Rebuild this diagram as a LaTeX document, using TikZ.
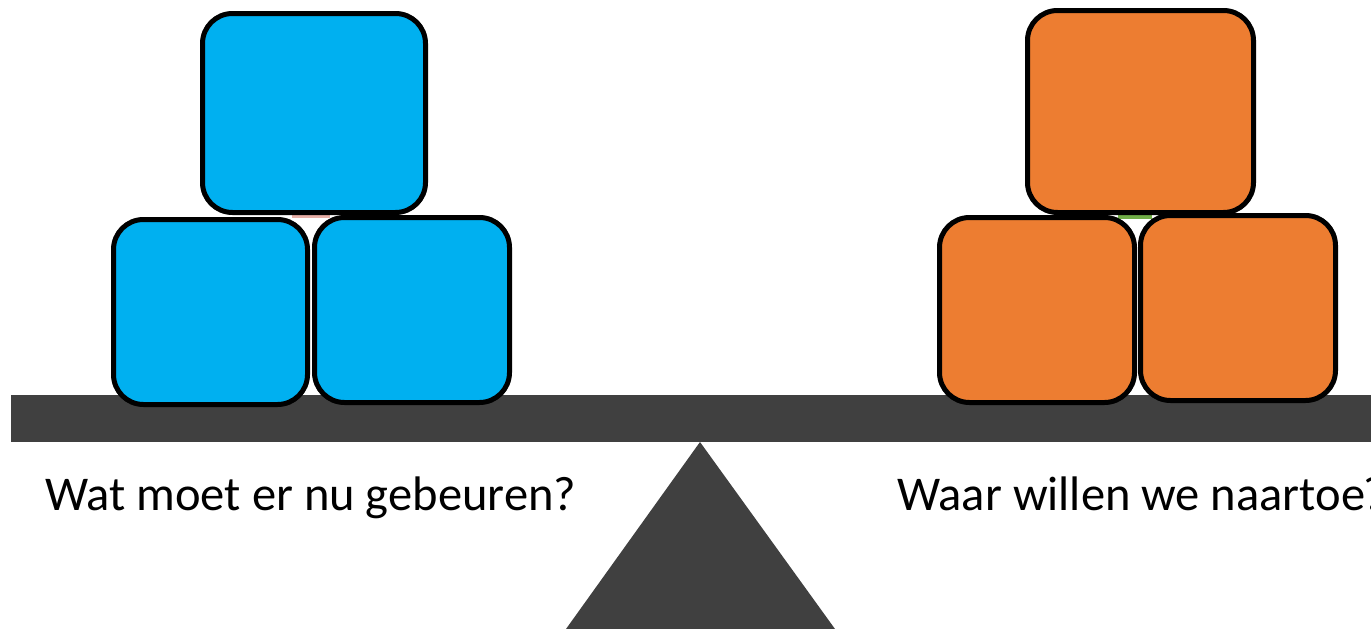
\documentclass[tikz,border=0pt]{standalone}
\usepackage{fontspec}
\setmainfont{Carlito}
\definecolor{cubeblue}{HTML}{00B0F0}
\definecolor{cubeorange}{HTML}{ED7D31}
\definecolor{beamgray}{HTML}{404040}
\definecolor{slivergreen}{HTML}{70AD47}
\definecolor{sliverred}{HTML}{E8B0A8}
\tikzset{
  cube/.style={draw=black, line width=5pt, rounded corners=30pt, inner sep=0pt, outer sep=0pt},
  bluecube/.style={cube, fill=cubeblue},
  orangecube/.style={cube, fill=cubeorange},
  label/.style={anchor=base west, inner sep=0pt, font=\fontsize{48.5}{58}\selectfont, text=black},
  beam/.style={fill=beamgray, draw=none}
}
\begin{document}
\begin{tikzpicture}[x=1pt, y=-1pt]
\useasboundingbox (0,0) rectangle (1371,629);
\clip (0,0) rectangle (1371,629);
\fill[white] (0,0) rectangle (1371,629);
% beam and fulcrum
\node[beam, minimum width=1360pt, minimum height=47pt, inner sep=0pt] (beam) at (691,418.5) {};
\coordinate (apex) at (700,442);
\coordinate (baseL) at (566,629);
\coordinate (baseR) at (835,629);
\fill[beamgray] (apex) -- (baseL) -- (baseR) -- cycle;
% slivers behind the cubes
\fill[slivergreen] (1118,214) rectangle (1152,219);
\fill[sliverred] (292,214) rectangle (330,218);
% blue cubes
\node[bluecube, minimum width=223pt, minimum height=199pt] (b1) at (314,113) {};
\node[bluecube, minimum width=194pt, minimum height=185pt] (b2) at (210.5,312) {};
\node[bluecube, minimum width=195pt, minimum height=185pt] (b3) at (412,310) {};
% orange cubes
\node[orangecube, minimum width=226pt, minimum height=202pt] (o1) at (1140.5,111.5) {};
\node[orangecube, minimum width=195pt, minimum height=185pt] (o2) at (1037,310) {};
\node[orangecube, minimum width=195pt, minimum height=185pt] (o3) at (1238,308) {};
% labels
\node[label] (lt) at (45,510) {Wat moet er nu gebeuren?};
\node[label] (rt) at (897,510) {\kern0pt Waar willen we naartoe\kern-2pt?};
\end{tikzpicture}
\end{document}
